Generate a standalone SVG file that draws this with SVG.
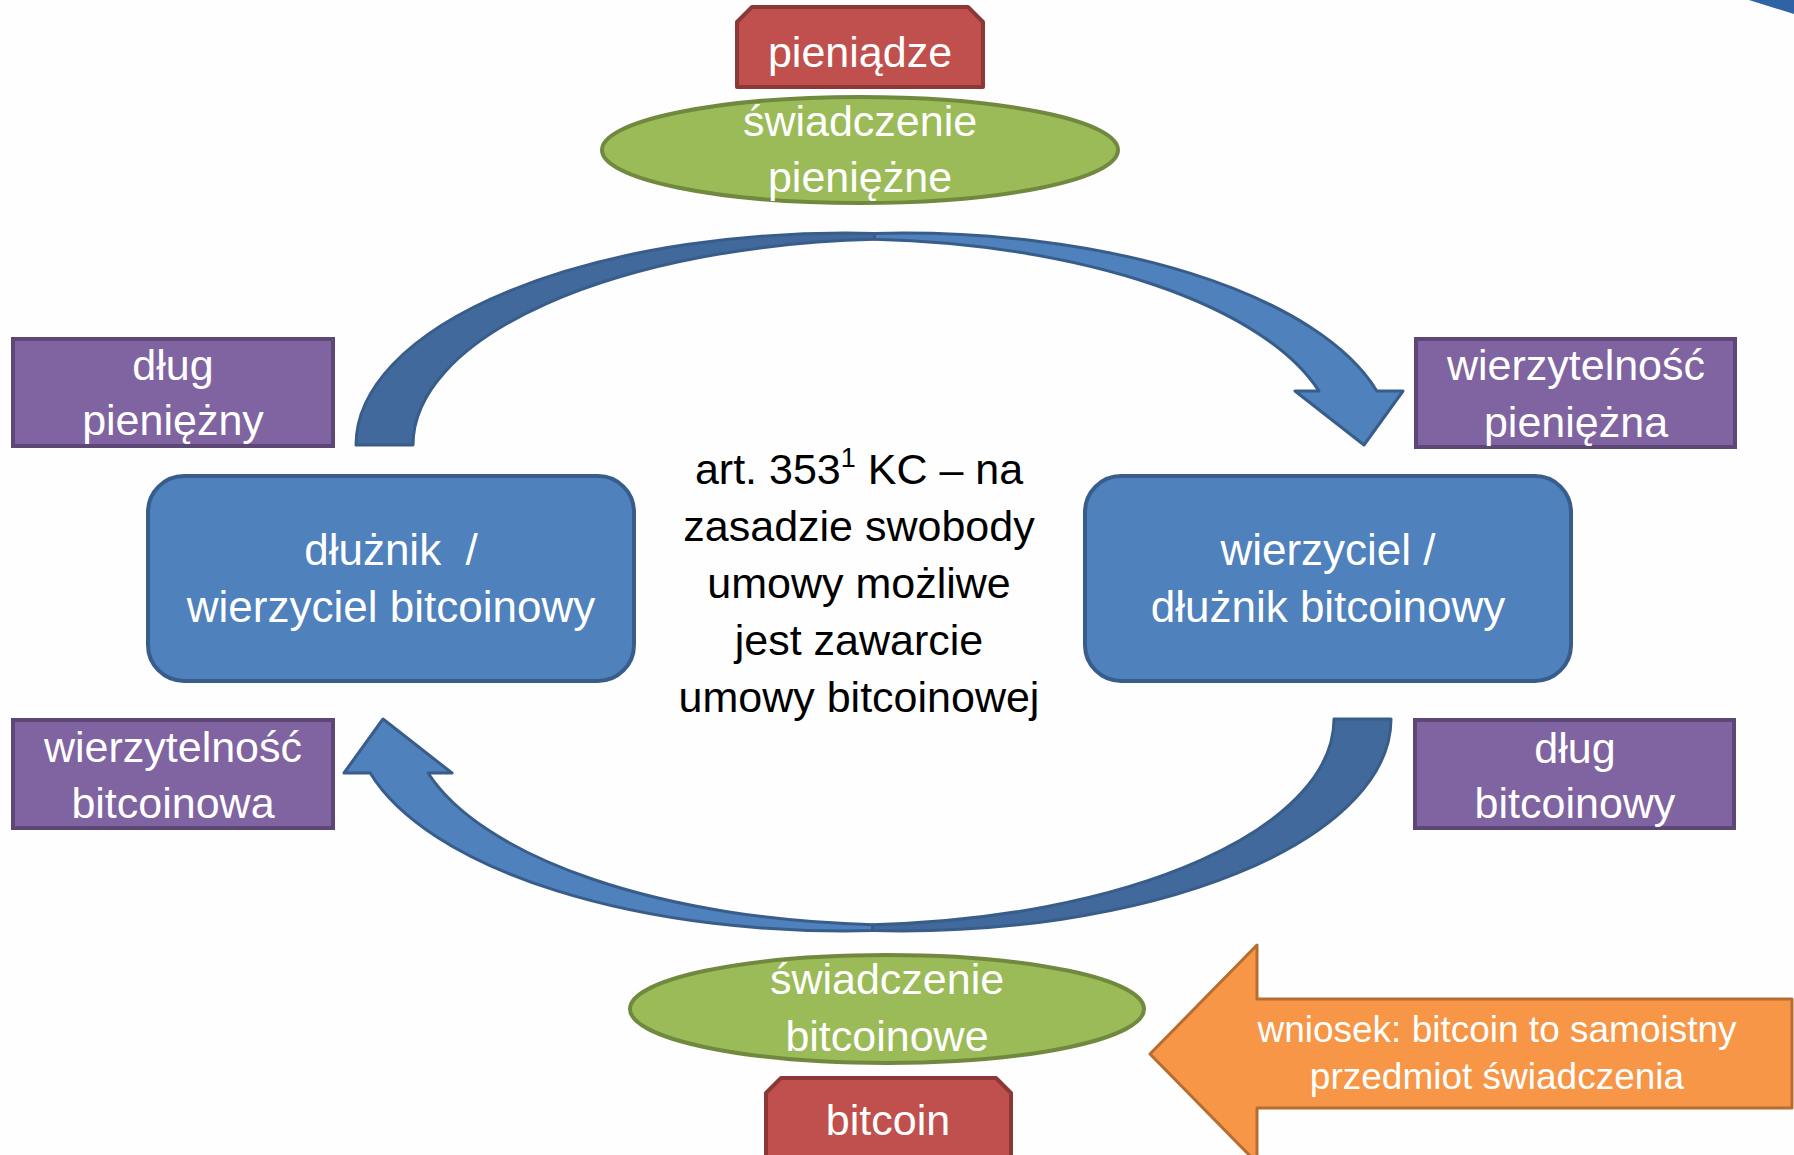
<svg xmlns="http://www.w3.org/2000/svg" width="1794" height="1155" viewBox="0 0 1794 1155">
<style>
  text { font-family: "Liberation Sans", Arial, sans-serif; text-anchor: middle; }
  .w { fill: #ffffff; font-size: 43px; }
  .wb { fill: #ffffff; font-size: 44px; white-space: pre; }
  .wo { fill: #ffffff; font-size: 37px; }
  .c { fill: #000000; font-size: 43px; }
  .red { fill: #C0504D; stroke: #8C3836; stroke-width: 4; stroke-linejoin: round; }
  .grn { fill: #9BBB59; stroke: #71893F; stroke-width: 4; }
  .pur { fill: #8064A2; stroke: #5C4776; stroke-width: 4; }
  .blu { fill: #4F81BD; stroke: #385D8A; stroke-width: 4; }
  .back { fill: #41699B; stroke: #385D8A; stroke-width: 3; stroke-linejoin: round; }
  .front { fill: #4F81BD; stroke: #385D8A; stroke-width: 3; stroke-linejoin: round; }
  .org { fill: #F79646; stroke: #B66D31; stroke-width: 3; stroke-linejoin: round; }
</style>
<defs>
  <g id="curvedArrow">
    <path class="back" d="M356,445 A490,212 0 0 1 874.5,233.4 L874.5,239.3 A490,206 0 0 0 413,445 Z"/>
    <path class="front" d="M874.5,233.4 A490,212 0 0 1 1376.8,391 L1403,391 L1364,445 L1295,391 L1318.9,391 A490,206 0 0 0 874.5,239.3 Z"/>
  </g>
</defs>
<rect x="0" y="0" width="1794" height="1155" fill="#FEFEFE"/>
<polygon points="1749,0 1794,0 1794,14" fill="#2E64A6"/>

<g id="connectors">
  <use href="#curvedArrow"/>
  <use href="#curvedArrow" transform="rotate(180 873.5 582)"/>
</g>

<g id="pieniadze">
  <path class="red" d="M737,87 L737,22 L752,7 L968,7 L983,22 L983,87 Z"/>
  <text class="w" x="860" y="67">pieniądze</text>
</g>

<g id="swiadczenie-pieniezne">
  <ellipse class="grn" cx="860" cy="150" rx="258" ry="53"/>
  <text class="w" x="860" y="136">świadczenie</text>
  <text class="w" x="860" y="192">pieniężne</text>
</g>

<g id="dlug-pieniezny">
  <rect class="pur" x="13" y="339" width="320" height="107"/>
  <text class="w" x="173" y="380">dług</text>
  <text class="w" x="173" y="435">pieniężny</text>
</g>

<g id="wierzytelnosc-pieniezna">
  <rect class="pur" x="1416" y="339" width="319" height="108"/>
  <text class="w" x="1576" y="380">wierzytelność</text>
  <text class="w" x="1576" y="437">pieniężna</text>
</g>

<g id="dluznik">
  <rect class="blu" x="148" y="476" width="486" height="205" rx="36" ry="36"/>
  <text class="wb" x="391" y="565">dłużnik  /</text>
  <text class="wb" x="391" y="622">wierzyciel bitcoinowy</text>
</g>

<g id="wierzyciel">
  <rect class="blu" x="1085" y="476" width="486" height="205" rx="36" ry="36"/>
  <text class="wb" x="1328" y="565">wierzyciel /</text>
  <text class="wb" x="1328" y="622">dłużnik bitcoinowy</text>
</g>

<g id="art-353">
  <text class="c" x="859" y="484">art. 353<tspan font-size="27" dy="-17">1</tspan><tspan dy="17"> KC – na</tspan></text>
  <text class="c" x="859" y="541">zasadzie swobody</text>
  <text class="c" x="859" y="598">umowy możliwe</text>
  <text class="c" x="859" y="655">jest zawarcie</text>
  <text class="c" x="859" y="712">umowy bitcoinowej</text>
</g>

<g id="wierzytelnosc-bitcoinowa">
  <rect class="pur" x="13" y="720" width="320" height="108"/>
  <text class="w" x="173" y="762">wierzytelność</text>
  <text class="w" x="173" y="818">bitcoinowa</text>
</g>

<g id="dlug-bitcoinowy">
  <rect class="pur" x="1415" y="720" width="319" height="108"/>
  <text class="w" x="1575" y="763">dług</text>
  <text class="w" x="1575" y="818">bitcoinowy</text>
</g>

<g id="swiadczenie-bitcoinowe">
  <ellipse class="grn" cx="887" cy="1009" rx="257" ry="54"/>
  <text class="w" x="887" y="994">świadczenie</text>
  <text class="w" x="887" y="1051">bitcoinowe</text>
</g>

<g id="bitcoin">
  <path class="red" d="M766,1165 L766,1093 L781,1078 L996,1078 L1011,1093 L1011,1165 Z"/>
  <text class="w" x="888" y="1135">bitcoin</text>
</g>

<g id="wniosek">
  <polygon class="org" points="1150,1054 1257,945 1257,999 1792,999 1792,1108 1257,1108 1257,1163"/>
  <text class="wo" x="1497" y="1042">wniosek: bitcoin to samoistny</text>
  <text class="wo" x="1497" y="1089">przedmiot świadczenia</text>
</g>
</svg>
